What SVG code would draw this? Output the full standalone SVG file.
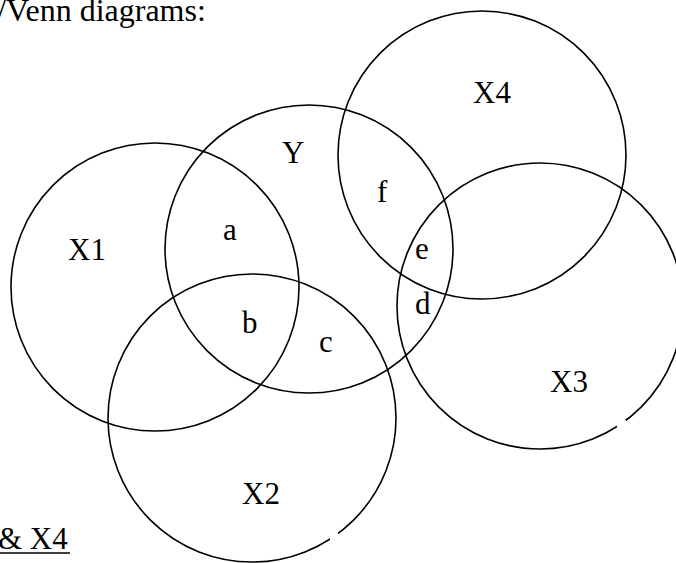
<svg xmlns="http://www.w3.org/2000/svg" width="676" height="563" viewBox="0 0 676 563">
<style>
.c{fill:none;stroke:#000;stroke-width:1.6}
text{font-family:"Liberation Serif","Times New Roman",serif;font-size:31px;fill:#000}
</style>
<rect width="676" height="563" fill="#fff"/>
<text x="-3" y="21" style="font-size:32px">/Venn diagrams:</text>
<g id="X1"><circle class="c" cx="155" cy="287" r="144"/><text x="68" y="260">X1</text></g>
<g id="Y"><circle class="c" cx="309" cy="249" r="144"/><text x="282" y="163">Y</text></g>
<g id="X2"><circle class="c" cx="252" cy="418" r="144"/><text x="242" y="504">X2</text></g>
<g id="X3"><circle class="c" cx="540" cy="306" r="143"/><text x="550" y="392">X3</text></g>
<g id="X4"><circle class="c" cx="482" cy="155" r="144"/><text x="473" y="103">X4</text></g>
<g id="regions">
<text x="223" y="240">a</text>
<text x="242" y="333">b</text>
<text x="319" y="352">c</text>
<text x="415" y="314">d</text>
<text x="415" y="259">e</text>
<text x="377" y="202">f</text>
</g>
<rect x="330" y="532" width="8" height="10" fill="#fff"/>
<rect x="617" y="420" width="9" height="9" fill="#fff"/>
<text x="-2" y="549">&amp; X4</text>
<line x1="0" y1="553" x2="70" y2="553" stroke="#000" stroke-width="1.5"/>
</svg>
